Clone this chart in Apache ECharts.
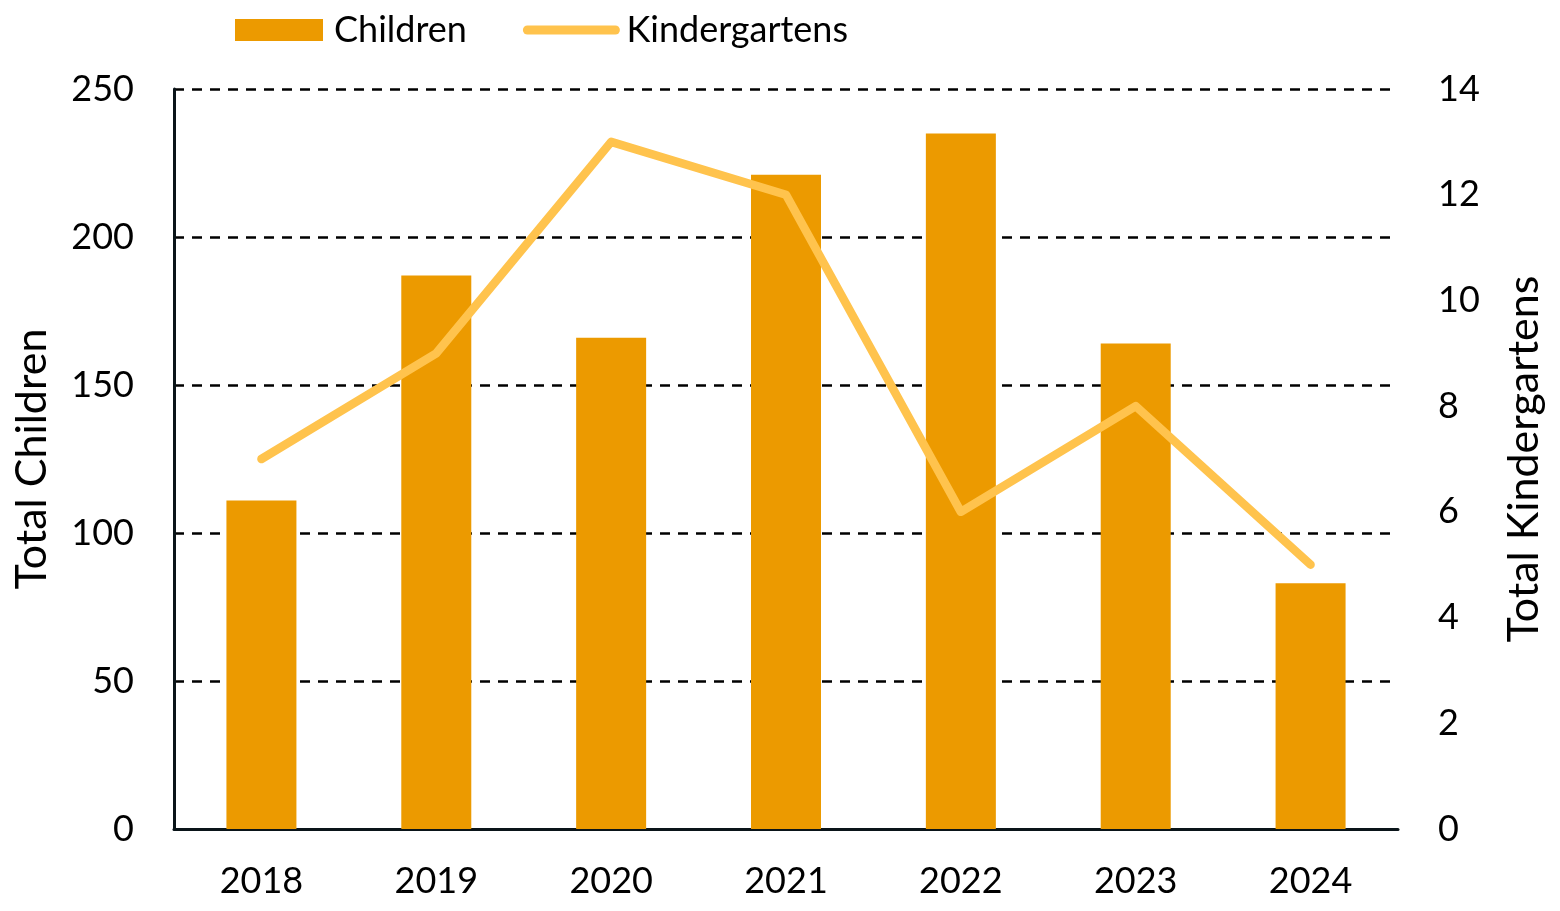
<!DOCTYPE html>
<html>
<head>
<meta charset="utf-8">
<script src="https://cdn.jsdelivr.net/npm/echarts@6/dist/echarts.min.js"></script>
<style>html,body{margin:0;padding:0;background:#fff;}#c{width:1560px;height:911px;}</style>
</head>
<body>
<div id="c"></div>
<script>
const years = ['2018','2019','2020','2021','2022','2023','2024'];
const children = [111, 187, 166, 221, 235, 164, 83];
const kindergartens = [7, 9, 13, 12, 6, 8, 5];
const leftTicks = {min: 0, max: 250, interval: 50};
const rightTicks = {min: 0, max: 14, interval: 2};

const FONT = 'Lato';
const TXT = '#000';
const AX = '#0a1419';
const chart = echarts.init(document.getElementById('c'), null, {renderer: 'canvas'});
chart.setOption({
  animation: false,
  textStyle: {fontFamily: FONT},
  legend: {
    top: 12, left: 235, padding: 0,
    itemWidth: 88, itemHeight: 22, itemGap: 56,
    textStyle: {fontFamily: FONT, fontSize: 36, color: TXT, padding: [0, 0, 0, 6]},
    data: [
      {name: 'Children', icon: 'rect'},
      {name: 'Kindergartens', itemStyle: {opacity: 0}, lineStyle: {width: 9, cap: 'round', color: '#FFC34D'}}
    ]
  },
  grid: {left: 174, right: 162, top: 89, bottom: 82},
  xAxis: {
    type: 'category', data: years,
    axisLine: {lineStyle: {color: AX, width: 3}},
    axisTick: {show: false},
    axisLabel: {fontFamily: FONT, fontSize: 36, color: TXT, margin: 34}
  },
  yAxis: [{
    type: 'value', min: leftTicks.min, max: leftTicks.max, interval: leftTicks.interval,
    name: 'Total Children', nameLocation: 'middle', nameGap: 120, nameRotate: 90,
    nameTextStyle: {fontFamily: FONT, fontSize: 43, color: TXT},
    axisLine: {show: true, lineStyle: {color: AX, width: 3}},
    axisTick: {show: false},
    axisLabel: {fontFamily: FONT, fontSize: 36, color: TXT, margin: 40},
    splitLine: {lineStyle: {color: '#000', width: 2.5, type: [10, 8]}}
  }, {
    type: 'value', min: rightTicks.min, max: rightTicks.max, interval: rightTicks.interval,
    name: 'Total Kindergartens', nameLocation: 'middle', nameGap: 105, nameRotate: 90,
    nameTextStyle: {fontFamily: FONT, fontSize: 43, color: TXT},
    axisLine: {show: false}, axisTick: {show: false},
    axisLabel: {fontFamily: FONT, fontSize: 36, color: TXT, margin: 40},
    splitLine: {show: false}
  }],
  series: [{
    name: 'Children', type: 'bar', data: children, barWidth: 70,
    itemStyle: {color: '#EC9A00'}
  }, {
    name: 'Kindergartens', type: 'line', yAxisIndex: 1, data: kindergartens,
    symbol: 'none', showSymbol: false,
    lineStyle: {color: '#FFC34D', width: 8.5, cap: 'round', join: 'round'},
    itemStyle: {color: '#FFC34D'}
  }]
});
</script>
</body>
</html>
